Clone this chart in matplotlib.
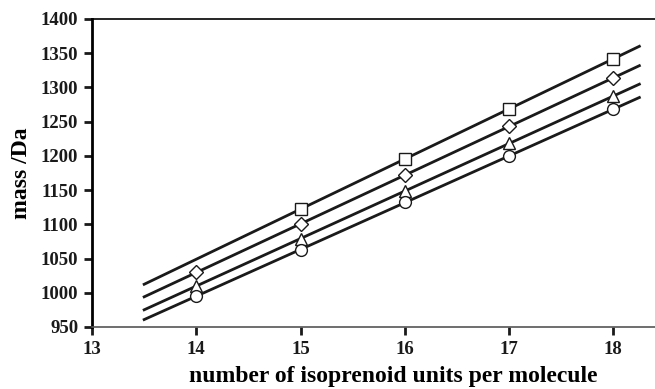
import numpy as np
import matplotlib
matplotlib.use("Agg")
import matplotlib.pyplot as plt

units = [14, 15, 16, 17, 18]
sq_x = [15, 16, 17, 18]
sq_y = [1122, 1196, 1268, 1342]
di_y = [1030, 1100, 1172, 1243, 1314]
tr_y = [1010, 1079, 1148, 1219, 1287]
ci_y = [995, 1063, 1132, 1200, 1268]
xticks = [13, 14, 15, 16, 17, 18]
yticks = [950, 1000, 1050, 1100, 1150, 1200, 1250, 1300, 1350, 1400]

plt.rcParams['font.family'] = ['Liberation Serif', 'DejaVu Serif']
plt.rcParams['font.weight'] = 'bold'

fig = plt.figure(figsize=(6.55, 3.89), dpi=100)
ax = fig.add_axes([0.1405, 0.1594, 0.8595, 0.7918])

fit_x = np.array([13.5, 18.25])
series = [(sq_x, sq_y, 's', 8.0), (units, di_y, 'D', 7.0),
          (units, tr_y, '^', 8.5), (units, ci_y, 'o', 8.5)]
for xs, ys, m, ms in series:
    p = np.polyfit(xs, ys, 1)
    ax.plot(fit_x, np.polyval(p, fit_x), color='#1a1a1a', lw=2.0, zorder=2)
    ax.plot(xs, ys, linestyle='none', marker=m, ms=ms, mfc='white',
            mec='#1a1a1a', mew=1.0, zorder=3)

ax.set_xlim(13, 18.4)
ax.set_ylim(950, 1400)
ax.set_xticks(xticks)
ax.set_yticks(yticks)
ax.tick_params(direction='out', length=6, width=2, labelsize=13.5, colors='#1a1a1a', pad=4)
for lab in ax.get_xticklabels() + ax.get_yticklabels():
    lab.set_fontweight('bold')
ax.spines['right'].set_visible(False)
ax.spines['left'].set_linewidth(2)
ax.spines['bottom'].set_linewidth(1.2)
ax.spines['bottom'].set_color('#555555')
ax.spines['top'].set_linewidth(1.2)
ax.set_xlabel('number of isoprenoid units per molecule', fontsize=17, fontweight='bold')
ax.xaxis.set_label_coords(0.535, -0.128)
ax.set_ylabel('mass /Da', fontsize=17, fontweight='bold', labelpad=6)

fig.savefig('out.png', dpi=100)
